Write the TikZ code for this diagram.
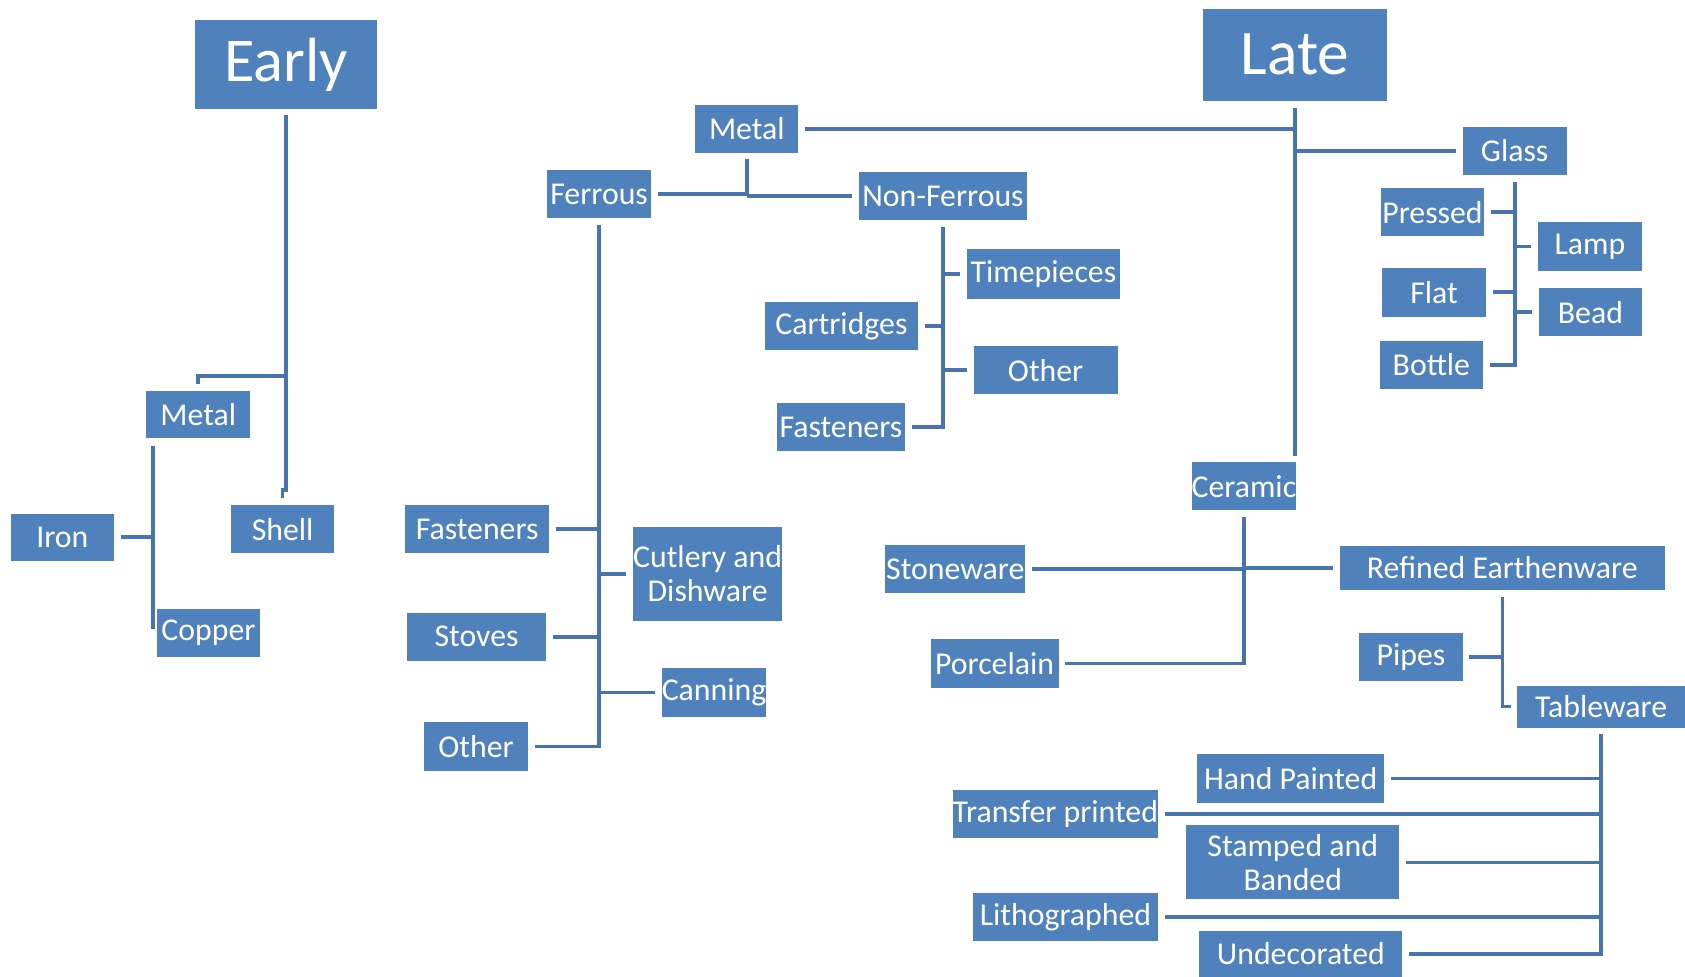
\documentclass[tikz,border=0pt]{standalone}
\usepackage{fontspec}
\setmainfont{Carlito}
\definecolor{boxblue}{HTML}{4F81BD}
\definecolor{linecol}{HTML}{4874AD}
\newcommand\mybox[6]{\node[box,minimum width=#4*0.5pt,minimum height=#5*0.5pt] (#1) at (#2,#3) {#6};}
\tikzset{
  box/.style={fill=boxblue,draw=none,text=white,inner sep=0pt,align=center,font=\fontsize{14.8}{16}\selectfont},
  conn/.style={draw=linecol,line width=1.7pt,shorten <=3pt,shorten >=3pt},
  branch/.style={draw=linecol,line width=1.7pt,shorten <=3pt},
  plain/.style={draw=linecol,line width=1.7pt},
}
\begin{document}
\begin{tikzpicture}[x=0.5pt,y=-0.5pt]
\useasboundingbox (0,0) rectangle (1568,909);
% top level
\node[box,minimum width=85pt,minimum height=41pt,font=\fontsize{29}{32}\selectfont] (Early) at (266,60) {Early};
\node[box,minimum width=86pt,minimum height=43pt,font=\fontsize{29.5}{32}\selectfont] (Late) at (1205,51) {Late};
% early
\mybox{MetalA}{184.5}{386}{97}{44}{Metal}
\mybox{Iron}{58}{500}{96}{44}{Iron}
\mybox{Shell}{263}{492.5}{96}{45}{Shell}
\mybox{Copper}{194}{589}{96}{44}{Copper}
% late metal
\mybox{MetalB}{695}{120}{96}{44}{Metal}
\mybox{Ferrous}{557.5}{180.5}{97}{45}{Ferrous}
\mybox{NonFerrous}{877.5}{182.5}{157}{45}{Non-Ferrous}
\mybox{Timepieces}{971}{255}{142}{46}{Timepieces}
\mybox{Cartridges}{783}{303.5}{142}{45}{Cartridges}
\mybox{OtherA}{973}{344.5}{134}{45}{Other}
\mybox{FastenersA}{782.5}{397.5}{119}{45}{Fasteners}
\mybox{FastenersB}{444}{492.5}{134}{45}{Fasteners}
\mybox{Cutlery}{658.5}{534}{137}{88}{Cutlery and\\Dishware}
\mybox{Stoves}{443.5}{592.5}{129}{45}{Stoves}
\mybox{Canning}{664.5}{644.5}{97}{45}{Canning}
\mybox{OtherB}{443}{694.5}{96}{45}{Other}
% glass
\mybox{Glass}{1409.5}{140.5}{97}{45}{Glass}
\mybox{Pressed}{1333}{197.5}{96}{45}{Pressed}
\mybox{Lamp}{1479.5}{229.5}{97}{45}{Lamp}
\mybox{Flat}{1334.5}{272}{97}{46}{Flat}
\mybox{Bead}{1480}{290.5}{96}{45}{Bead}
\mybox{Bottle}{1332}{339.5}{96}{45}{Bottle}
% ceramic
\mybox{Ceramic}{1157.5}{452.5}{97}{45}{Ceramic}
\mybox{Stoneware}{889}{529.5}{130}{45}{Stoneware}
\mybox{Refined}{1398}{528.5}{302}{41}{Refined Earthenware}
\mybox{Porcelain}{925.5}{617.5}{119}{45}{Porcelain}
\mybox{Pipes}{1313}{611.5}{96}{45}{Pipes}
\mybox{Tableware}{1490}{657.5}{156}{39}{Tableware}
\mybox{HandPainted}{1201}{724.5}{174}{45}{Hand Painted}
\mybox{Transfer}{982}{757.5}{190}{45}{Transfer printed}
\mybox{Stamped}{1203}{802.5}{198}{69}{Stamped and\\Banded}
\mybox{Litho}{991.5}{853.5}{173}{45}{Lithographed}
\mybox{Undecorated}{1210.5}{887.5}{189}{43}{Undecorated}
% ---- connectors ----
% Early tree
\coordinate (eJog) at (266,456);
\draw[conn] (Early.south) -- (eJog) -| (Shell.north);
\coordinate (eJoin) at (266,350);
\draw[plain,shorten >=3pt] (eJoin) -| (MetalA.north);
\coordinate (mTop) at ([shift={(7,7)}]MetalA.south west);
\coordinate (mBot) at ([shift={(-3,-4)}]Copper.west);
\draw[plain] (mTop) -- (mBot);
\draw[branch] (Iron.east) -- (Iron.east -| mTop);
% Late trunk
\coordinate (lBot) at ([shift={(-1,-5)}]Ceramic.north east);
\draw[plain,shorten <=3pt] (Late.south) -- (Late.south |- lBot);
\draw[branch] (MetalB.east) -- (MetalB.east -| Late.south);
\draw[branch] (Glass.west) -- (Glass.west -| Late.south);
% Metal (late)
\coordinate (mJ) at (695,182);
\draw[plain,shorten <=3pt] (MetalB.south) -- (mJ);
\draw[branch] (Ferrous.east) -- (Ferrous.east -| mJ);
\draw[branch] (NonFerrous.west) -- (NonFerrous.west -| mJ);
% Non-Ferrous
\draw[conn] (NonFerrous.south) |- (FastenersA.east);
\draw[branch] (Timepieces.west) -- (Timepieces.west -| NonFerrous.south);
\draw[branch] (Cartridges.east) -- (Cartridges.east -| NonFerrous.south);
\draw[branch] (OtherA.west) -- (OtherA.west -| NonFerrous.south);
% Ferrous
\draw[conn] (Ferrous.south) |- (OtherB.east);
\draw[branch] (FastenersB.east) -- (FastenersB.east -| Ferrous.south);
\draw[branch] (Cutlery.west) -- (Cutlery.west -| Ferrous.south);
\draw[branch] (Stoves.east) -- (Stoves.east -| Ferrous.south);
\draw[branch] (Canning.west) -- (Canning.west -| Ferrous.south);
% Glass
\draw[conn] (Glass.south) |- (Bottle.east);
\draw[branch] (Pressed.east) -- (Pressed.east -| Glass.south);
\draw[branch] (Lamp.west) -- (Lamp.west -| Glass.south);
\draw[branch] (Flat.east) -- (Flat.east -| Glass.south);
\draw[branch] (Bead.west) -- (Bead.west -| Glass.south);
% Ceramic
\draw[conn] (Ceramic.south) |- (Porcelain.east);
\draw[branch] (Stoneware.east) -- (Stoneware.east -| Ceramic.south);
\draw[branch] (Refined.west) -- (Refined.west -| Ceramic.south);
% Refined
\draw[conn] (Refined.south) |- (Tableware.west);
\draw[branch] (Pipes.east) -- (Pipes.east -| Refined.south);
% Tableware
\draw[conn] (Tableware.south) |- (Undecorated.east);
\draw[branch] (HandPainted.east) -- (HandPainted.east -| Tableware.south);
\draw[branch] (Transfer.east) -- (Transfer.east -| Tableware.south);
\draw[branch] (Stamped.east) -- (Stamped.east -| Tableware.south);
\draw[branch] (Litho.east) -- (Litho.east -| Tableware.south);
\end{tikzpicture}
\end{document}
